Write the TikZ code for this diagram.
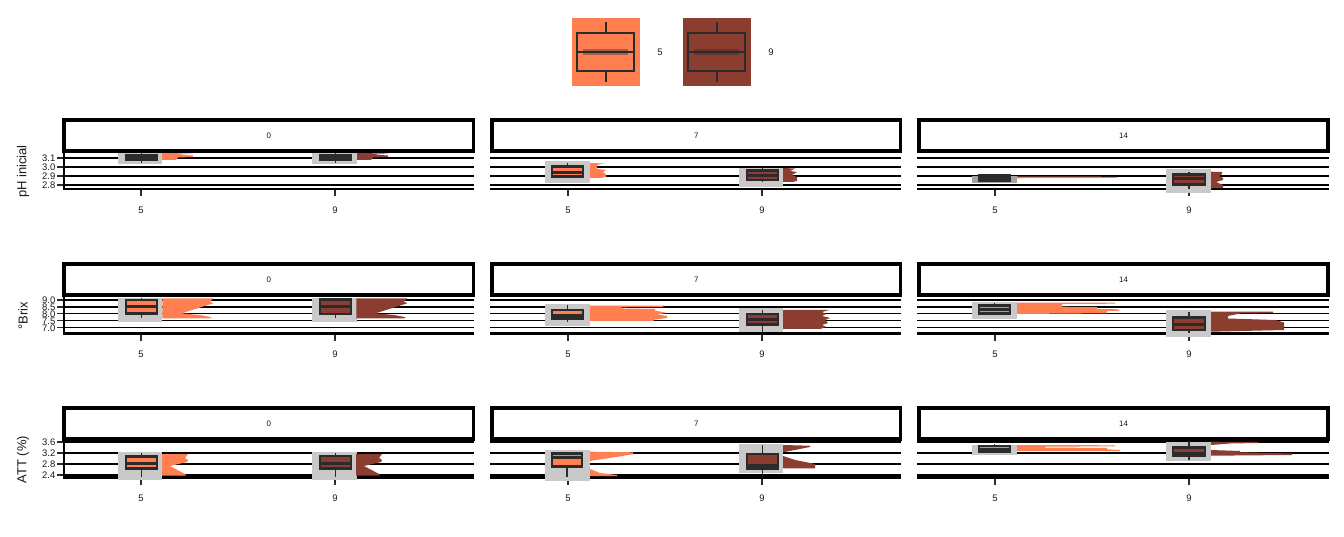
\documentclass[tikz,border=0pt]{standalone}
\usepackage{fontspec}
\setmainfont{Liberation Sans}
\definecolor{coralA}{HTML}{FF7F50}
\definecolor{coralB}{HTML}{8B3E2F}
\definecolor{dk}{HTML}{2B2B2B}
\definecolor{gr}{HTML}{C9C9C9}
\definecolor{grd}{HTML}{A3A3A3}
\definecolor{txt}{HTML}{1A1A1A}
\tikzset{
  gridln/.style={line width=1.8pt, black},
  axisln/.style={line width=2.5pt, black},
  stripbox/.style={draw=black, line width=3.5pt, fill=white},
  striptxt/.style={font=\fontsize{8}{8}\selectfont, text=txt, inner sep=0pt},
  ticktxt/.style={font=\fontsize{9.5}{9.5}\selectfont, text=txt, inner sep=0pt},
  titletxt/.style={font=\fontsize{13}{13}\selectfont, text=txt, inner sep=0pt, rotate=90},
  tickln/.style={line width=1.5pt, dk},
  whisk/.style={line width=1.6pt, dk},
  boxln/.style={line width=2.8pt, dk},
  medln/.style={line width=3pt, dk},
}
% x1 x2 ytop ybot median wtop wbot colour
\newcommand\mybox[8]{%
  \draw[whisk] ({(#1+#2)/2},#6) -- ({(#1+#2)/2},#7);
  \draw[boxln, fill=#8] (#1,#3) rectangle (#2,#4);
  \draw[medln] (#1,#5) -- (#2,#5);
}
\begin{document}
\begin{tikzpicture}[x=1pt,y=-1pt]
\useasboundingbox (0,0) rectangle (1344,537);
\fill[white] (0,0) rectangle (1344,537);

% ---------- legend ----------
\fill[coralA] (572,18) rectangle (640,86);
\fill[dk, opacity=0.4] (583,49.5) rectangle (628,55.5);
\draw[whisk] (606,22) -- (606,33);
\draw[whisk] (606,71) -- (606,82);
\draw[dk, line width=1.6pt] (577,33) rectangle (634,71);
\draw[dk, line width=1.4pt] (577,52) -- (634,52);
\node[ticktxt] (leg5) at (660,52) {5};
\fill[coralB] (683,18) rectangle (751,86);
\fill[dk, opacity=0.4] (694,49.5) rectangle (739,55.5);
\draw[whisk] (717,22) -- (717,33);
\draw[whisk] (717,71) -- (717,82);
\draw[dk, line width=1.6pt] (688,33) rectangle (745,71);
\draw[dk, line width=1.4pt] (688,52) -- (745,52);
\node[ticktxt] (leg9) at (771,52) {9};

% ---------- panels frame ----------
\foreach \l/\r/\sl/\sr/\lab/\a/\b in {63/474/64/473.5/0/141/335, 490/901/492/900.5/7/568/762, 917/1329/919/1328/14/995/1189}{
  \foreach \dy/\ab/\grids in {0/189/{158,167,176,185}, 144/333.5/{300,307,313.5,320.5,327.5}, 288/477.5/{442,453,464,475}}{
    \draw[stripbox] (\sl,120+\dy) rectangle (\sr,151+\dy);
    \node[striptxt] (s-\lab-\dy) at ({(\sl+\sr)/2},136+\dy) {\lab};
    \foreach \g in \grids { \draw[gridln] (\l,\g) -- (\r,\g); }
    \draw[axisln] (\l,\ab) -- (\r,\ab);
    \draw[tickln] (\a,\ab+1) -- (\a,\ab+7);
    \draw[tickln] (\b,\ab+1) -- (\b,\ab+7);
    \node[ticktxt] (xa-\lab-\dy) at (\a,210+\dy) {5};
    \node[ticktxt] (xb-\lab-\dy) at (\b,210+\dy) {9};
  }
}

% ---------- left axes ----------
\draw[line width=2pt, black] (64,152) -- (64,190);
\draw[line width=2pt, black] (64,296) -- (64,334.5);
\draw[line width=2pt, black] (64,440) -- (64,478.5);
\foreach \y/\t in {158/3.1,167/3.0,176/2.9,185/2.8, 300/9.0,307/8.5,313.5/8.0,320.5/7.5,327.5/7.0, 442/3.6,453/3.2,464/2.8,475/2.4}{
  \draw[tickln] (57,\y) -- (63,\y);
  \node[ticktxt, anchor=east] (yl-\y) at (55.5,\y+0.5) {\t};
}
\node[titletxt] (ttl1) at (23,171.5) {pH inicial};
\node[titletxt] (ttl2) at (23,315.5) {°Brix};
\node[titletxt] (ttl3) at (23,459.5) {ATT (\%)};

% ---------- grey backgrounds ----------
\fill[gr] (118,153) rectangle (162,164);
\fill[gr] (312,153) rectangle (357,164);
\fill[gr] (545,160.7) rectangle (590,182.7);
\fill[gr] (739,167.7) rectangle (783,186.7);
\fill[grd] (972,176) rectangle (1017,183.3);
\fill[gr] (1166,169) rectangle (1211,192.7);

\fill[gr] (118,298) rectangle (162,322);
\fill[gr] (312,298) rectangle (357,322);
\fill[gr] (545,304) rectangle (590,325.7);
\fill[gr] (739,308.3) rectangle (783,331.7);
\fill[gr] (972,301.7) rectangle (1017,319.3);
\fill[gr] (1166,310) rectangle (1211,336.7);

\fill[gr] (118,451.7) rectangle (162,480.3);
\fill[gr] (312,451.7) rectangle (357,480.3);
\fill[gr] (545,450) rectangle (590,480.7);
\fill[gr] (739,444.3) rectangle (783,473.3);
\fill[gr] (972,445) rectangle (1017,455);
\fill[gr] (1166,441.7) rectangle (1211,461);

% ---------- half violins ----------
% row 1
\fill[coralA] (162,153) -- (193,153.5) -- (178,154.5) -- (193,155.5) -- (193,157) -- (178,157.5) -- (176,160) -- (162,160) -- cycle;
\fill[coralB] (357,153) -- (388,153.5) -- (373,154.5) -- (388,155.5) -- (388,157) -- (373,157.5) -- (371,160) -- (357,160) -- cycle;
\fill[coralA] (590,163) -- (604,163.5) -- (597,165) -- (597,169) -- (606,170) -- (603,172) -- (606,174.5) -- (606,177) -- (601,178) -- (590,178) -- cycle;
\fill[coralB] (783,168) -- (795,168.5) -- (790,171) -- (797,172) -- (792,175) -- (797,177) -- (797,181) -- (792,182) -- (783,182) -- cycle;
\fill[coralA] (1017,176.5) -- (1117,176.8) -- (1117,177.8) -- (1025,178) -- (1017,178.5) -- cycle;
\fill[coralB] (1211,171.7) -- (1222,172) -- (1222,174) -- (1219,176) -- (1223,178) -- (1223,180) -- (1216,182) -- (1223,185) -- (1223,188) -- (1211,188.3) -- cycle;
% row 2
\fill[coralA] (162.3,298.3) -- (213.3,298.3) -- (210,301.7) -- (213.3,303.3) -- (181.7,313.3) -- (200,315) -- (211.7,317.3) -- (210,318.3) -- (162.3,318.3) -- cycle;
\fill[coralB] (356.3,298.3) -- (407.3,298.3) -- (404,301.7) -- (407.3,303.3) -- (375.7,313.3) -- (394,315) -- (405.7,317.3) -- (404,318.3) -- (356.3,318.3) -- cycle;
\fill[coralA] (590,305.7) -- (663,305.7) -- (663,307) -- (620,307.3) -- (623,308.5) -- (655,309) -- (655,310.5) -- (667,313) -- (657,314.5) -- (667,316) -- (667,318) -- (655,319.5) -- (653,321) -- (590,321) -- cycle;
\fill[coralB] (783,310) -- (829,310) -- (822,312) -- (826,314) -- (822,316) -- (830,318) -- (825,320) -- (828,323) -- (822,325) -- (826,327) -- (820,329) -- (783,329) -- cycle;
\fill[coralA] (1017,302.7) -- (1115,302.7) -- (1115,303.7) -- (1062,304) -- (1062,306.7) -- (1097,307) -- (1097,309) -- (1118,309.3) -- (1120,310.7) -- (1107,311) -- (1107,313.3) -- (1017,314) -- cycle;
\fill[coralB] (1211,311.7) -- (1273,311.7) -- (1273,313) -- (1240,313.5) -- (1228,316) -- (1228,318.5) -- (1275,320) -- (1284,322.5) -- (1284,330) -- (1211,331.7) -- cycle;
% row 3
\fill[coralA] (162,454) -- (188,454) -- (185,458) -- (188,460) -- (187,462) -- (170,466) -- (185,474) -- (186,475.7) -- (162,475.7) -- cycle;
\fill[coralB] (356,454) -- (382,454) -- (379,458) -- (382,460) -- (381,462) -- (364,466) -- (379,474) -- (380,475.7) -- (356,475.7) -- cycle;
\fill[coralA] (590,451.7) -- (633,452.3) -- (633,454.3) -- (590,461) -- cycle;
\fill[coralA] (590,469) -- (600,473) -- (617,475) -- (617,476) -- (590,476) -- cycle;
\fill[coralB] (783,445) -- (810,445.7) -- (810,447) -- (783,452.3) -- cycle;
\fill[coralB] (783,456) -- (795,460) -- (815,464) -- (815,468.3) -- (783,468.3) -- cycle;
\fill[coralA] (1017,445) -- (1115,445.3) -- (1115,446.3) -- (1045,446.7) -- (1045,447.5) -- (1107,448) -- (1107,449.3) -- (1120,450) -- (1120,451) -- (1017,451) -- cycle;
\fill[coralB] (1211,441.7) -- (1258,442) -- (1258,443) -- (1230,443.5) -- (1211,445) -- cycle;
\fill[coralB] (1211,450) -- (1240,451) -- (1240,452.3) -- (1292,453.5) -- (1292,455) -- (1211,455.7) -- cycle;

% ---------- boxes ----------
\mybox{126}{157}{155}{160}{157.5}{153}{163}{coralA}
\mybox{320}{351}{155}{160}{157.5}{153}{163}{coralB}
\mybox{552}{583}{166.7}{176.7}{172.5}{163}{177.5}{coralA}
\mybox{747}{778}{170.7}{180}{175.5}{168}{182}{coralB}
\mybox{979}{1010}{175.7}{180.7}{178}{175}{181}{coralA}
\mybox{1173}{1205}{174.3}{184.3}{178.5}{171.7}{189}{coralB}

\mybox{126}{157}{300}{313.3}{306.5}{298}{318}{coralA}
\mybox{320}{351}{299.7}{314}{306.5}{298}{318}{coralB}
\mybox{552}{583}{310}{318.3}{315.5}{305}{321.7}{coralA}
\mybox{747}{778}{314}{324.3}{320}{310}{333}{coralB}
\mybox{979}{1010}{305.7}{313.3}{309.5}{302.7}{314}{coralA}
\mybox{1173}{1205}{317.7}{330}{325}{311.7}{333}{coralB}

\mybox{126}{157}{456.3}{468.3}{463}{453}{477}{coralA}
\mybox{320}{351}{456}{468.3}{463}{453}{477}{coralB}
\mybox{552}{582}{453.3}{466.7}{457.5}{451.7}{477}{coralA}
\mybox{747}{778}{454}{468.3}{465}{445}{477}{coralB}
\mybox{979}{1010}{446}{451.7}{449}{444}{453}{coralA}
\mybox{1173}{1205}{447.3}{455.7}{453}{441}{460}{coralB}
\end{tikzpicture}
\end{document}
